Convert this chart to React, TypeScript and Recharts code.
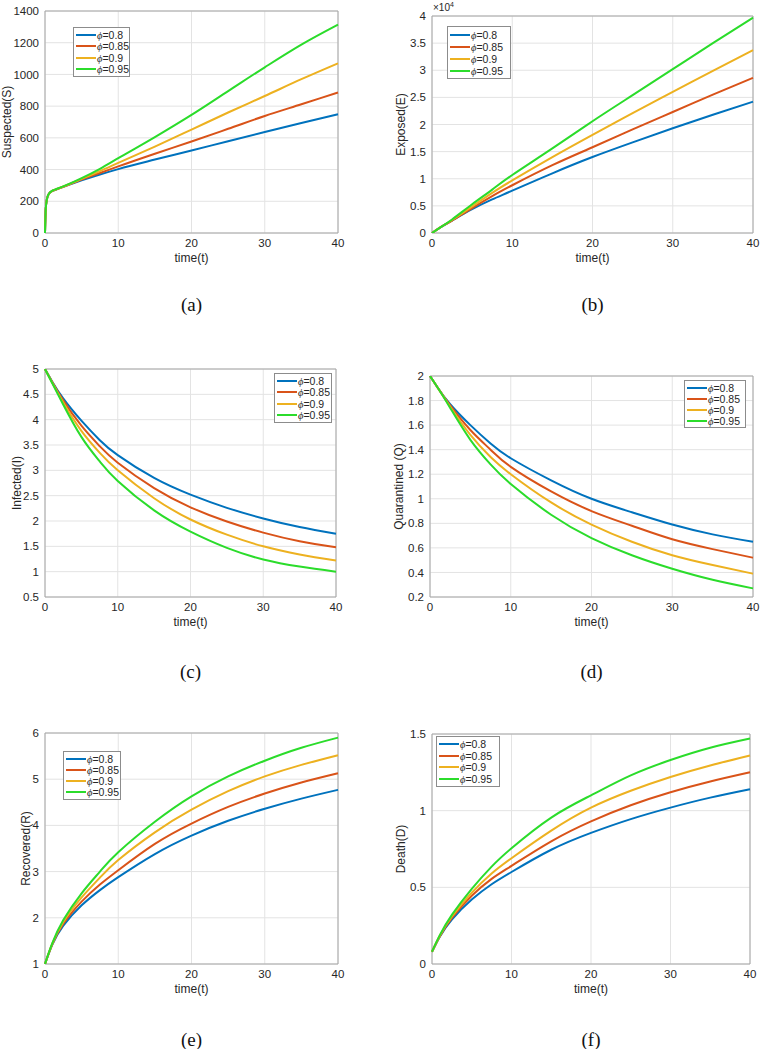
import React from "react";
import {
    LineChart,
    Line,
    XAxis,
    YAxis,
    CartesianGrid,
    ReferenceArea,
    Label,
} from "recharts";

// time points (panel a needs a finer start, the curve shoots up right away)
const timesS = [0, 0.1, 0.25, 0.5, 1, 1.5, 2.5, 5, 7.5, 10, 15, 20, 25, 30, 35, 40];
const times = [0, 1, 2.5, 5, 7.5, 10, 15, 20, 25, 30, 35, 40];

const phiLabels = ["0.8", "0.85", "0.9", "0.95"];
const colors = ["#0072BD", "#D95319", "#EDB120", "#2BDC2B"];

const xTicks = [0, 10, 20, 30, 40];

// (a) Suspected(S)
const S_080 = [0, 150, 210, 245, 265, 274, 291, 332, 369, 403, 463, 520, 579, 637, 694, 749];
const S_085 = [0, 150, 210, 245, 265, 274, 292, 337, 378, 420, 500, 577, 657, 738, 812, 886];
const S_090 = [0, 150, 210, 245, 266, 275, 293, 341, 390, 442, 545, 652, 760, 864, 970, 1070];
const S_095 = [0, 150, 210, 245, 267, 276, 294, 346, 405, 472, 605, 745, 895, 1045, 1188, 1314];
const sTicks = [0, 200, 400, 600, 800, 1000, 1200, 1400];

// (b) Exposed(E), in units of 10^4
const E_080 = [0, 0.1, 0.23, 0.44, 0.62, 0.78, 1.1, 1.4, 1.67, 1.93, 2.18, 2.42];
const E_085 = [0, 0.1, 0.23, 0.46, 0.68, 0.88, 1.25, 1.58, 1.91, 2.23, 2.55, 2.86];
const E_090 = [0, 0.1, 0.24, 0.49, 0.74, 0.97, 1.4, 1.81, 2.21, 2.6, 2.99, 3.37];
const E_095 = [0, 0.1, 0.25, 0.53, 0.8, 1.07, 1.56, 2.06, 2.54, 3.02, 3.5, 3.97];
const eTicks = [0, 0.5, 1, 1.5, 2, 2.5, 3, 3.5, 4];

// (c) Infected(I)
const I_080 = [5, 4.75, 4.42, 3.98, 3.6, 3.3, 2.85, 2.52, 2.26, 2.05, 1.88, 1.75];
const I_085 = [5, 4.74, 4.38, 3.88, 3.48, 3.15, 2.65, 2.27, 1.99, 1.77, 1.6, 1.48];
const I_090 = [5, 4.73, 4.34, 3.78, 3.35, 3.0, 2.45, 2.03, 1.73, 1.5, 1.34, 1.22];
const I_095 = [5, 4.72, 4.3, 3.66, 3.18, 2.79, 2.21, 1.79, 1.47, 1.24, 1.1, 1.0];
const iTicks = [0.5, 1, 1.5, 2, 2.5, 3, 3.5, 4, 4.5, 5];

// (d) Quarantined (Q)
const Q_080 = [2, 1.9, 1.77, 1.6, 1.45, 1.33, 1.15, 1.0, 0.89, 0.79, 0.71, 0.65];
const Q_085 = [2, 1.9, 1.76, 1.56, 1.4, 1.26, 1.06, 0.9, 0.78, 0.67, 0.59, 0.52];
const Q_090 = [2, 1.9, 1.75, 1.52, 1.34, 1.2, 0.97, 0.79, 0.65, 0.54, 0.46, 0.39];
const Q_095 = [2, 1.9, 1.74, 1.48, 1.28, 1.12, 0.87, 0.68, 0.54, 0.43, 0.34, 0.27];
const qTicks = [0.2, 0.4, 0.6, 0.8, 1, 1.2, 1.4, 1.6, 1.8, 2];

// (e) Recovered(R)
const R_080 = [1, 1.42, 1.83, 2.27, 2.6, 2.88, 3.38, 3.78, 4.1, 4.36, 4.58, 4.77];
const R_085 = [1, 1.43, 1.87, 2.35, 2.72, 3.03, 3.6, 4.04, 4.4, 4.69, 4.93, 5.13];
const R_090 = [1, 1.44, 1.91, 2.44, 2.87, 3.25, 3.85, 4.34, 4.74, 5.06, 5.31, 5.52];
const R_095 = [1, 1.45, 1.95, 2.53, 3.0, 3.42, 4.08, 4.63, 5.06, 5.4, 5.68, 5.9];
const rTicks = [1, 2, 3, 4, 5, 6];

// (f) Death(D)
const D_080 = [0.08, 0.18, 0.29, 0.42, 0.52, 0.6, 0.745, 0.855, 0.945, 1.02, 1.085, 1.14];
const D_085 = [0.08, 0.183, 0.3, 0.445, 0.555, 0.64, 0.8, 0.93, 1.035, 1.12, 1.19, 1.25];
const D_090 = [0.08, 0.186, 0.31, 0.465, 0.59, 0.69, 0.87, 1.02, 1.13, 1.22, 1.295, 1.36];
const D_095 = [0.08, 0.19, 0.32, 0.49, 0.635, 0.755, 0.955, 1.1, 1.23, 1.33, 1.41, 1.47];
const dTicks = [0, 0.5, 1, 1.5];

const FONT = "'Liberation Sans', Arial, sans-serif";
const TXT = "#262626";

function rows(t: number[], series: number[][]) {
    return t.map((tt, i) => {
        const r: any = { t: tt };
        series.forEach((s, k) => (r["s" + k] = s[i]));
        return r;
    });
}

const panels = [
    { id: "a", data: rows(timesS, [S_080, S_085, S_090, S_095]), yTicks: sTicks, ylabel: "Suspected(S)", curve: "monotone",
      box: [45, 11, 338, 233], ylx: 11, legend: [73, 27, 57, 50], cap: 305 },
    { id: "b", data: rows(times, [E_080, E_085, E_090, E_095]), yTicks: eTicks, ylabel: "Exposed(E)", curve: "natural",
      box: [432, 16, 753, 233], ylx: 405, legend: [447, 26, 64, 53], cap: 305 },
    { id: "c", data: rows(times, [I_080, I_085, I_090, I_095]), yTicks: iTicks, ylabel: "Infected(I)", curve: "natural",
      box: [45, 369, 336, 597], ylx: 21, legend: [274, 373, 58, 50], cap: 672 },
    { id: "d", data: rows(times, [Q_080, Q_085, Q_090, Q_095]), yTicks: qTicks, ylabel: "Quarantined (Q)", curve: "natural",
      box: [430, 376, 753, 597], ylx: 403, legend: [684, 380, 62, 48], cap: 672 },
    { id: "e", data: rows(times, [R_080, R_085, R_090, R_095]), yTicks: rTicks, ylabel: "Recovered(R)", curve: "natural",
      box: [45, 733, 338, 964], ylx: 30, legend: [63, 751, 58, 49], cap: 1040 },
    { id: "f", data: rows(times, [D_080, D_085, D_090, D_095]), yTicks: dTicks, ylabel: "Death(D)", curve: "natural",
      box: [432, 734, 750, 964], ylx: 405, legend: [436, 736, 64, 51], cap: 1040 },
];

function LegendBox({ x, y, w, h }: { x: number; y: number; w: number; h: number }) {
    return (
        <div style={{
            position: "absolute", left: x, top: y, width: w, height: h, boxSizing: "border-box",
            border: "1px solid #8c8c8c", background: "#fff", fontFamily: FONT, fontSize: 10.5,
            color: TXT, display: "flex", flexDirection: "column", justifyContent: "space-evenly",
            padding: "1px 0",
        }}>
            {phiLabels.map((p, k) => (
                <div key={p} style={{ display: "flex", alignItems: "center", height: 11 }}>
                    <span style={{ display: "inline-block", width: 20, height: 2, background: colors[k], marginLeft: 2, marginRight: 1 }} />
                    <span><i style={{ fontFamily: "'Liberation Serif', serif" }}>ϕ</i>={p}</span>
                </div>
            ))}
        </div>
    );
}

function Panel({ p }: { p: any }) {
    const [x0, y0, x1, y1] = p.box;
    const pw = x1 - x0;
    const ph = y1 - y0;
    const left = x0 - 45;
    const top = y0 - 10;
    const yMin = p.yTicks[0];
    const yMax = p.yTicks[p.yTicks.length - 1];
    const ly = 10 + ph / 2;
    const lx = p.ylx - left;
    return (
        <>
            <div style={{ position: "absolute", left, top }}>
                <LineChart width={pw + 55} height={ph + 50} data={p.data}
                           margin={{ top: 10, right: 10, left: 0, bottom: 0 }}>
                    <CartesianGrid stroke="#e3e3e3" strokeWidth={1} />
                    <XAxis dataKey="t" type="number" domain={[0, 40]} ticks={xTicks} height={40}
                           axisLine={false} tickLine={false} tickSize={4} tickMargin={2}
                           tick={{ fill: TXT, fontSize: 11.5, fontFamily: FONT }} interval={0}>
                        <Label content={() => (
                            <text x={45 + pw / 2} y={10 + ph + 29} textAnchor="middle"
                                  fill={TXT} fontSize={12} fontFamily={FONT}>time(t)</text>
                        )} />
                    </XAxis>
                    <YAxis type="number" domain={[yMin, yMax]} ticks={p.yTicks} width={45}
                           axisLine={false} tickLine={false} tickSize={4} tickMargin={2}
                           tick={{ fill: TXT, fontSize: 11.5, fontFamily: FONT }} interval={0}
                           allowDataOverflow>
                        <Label content={() => (
                            <text x={lx} y={ly} transform={`rotate(-90 ${lx} ${ly})`} textAnchor="middle"
                                  fill={TXT} fontSize={12} fontFamily={FONT}>{p.ylabel}</text>
                        )} />
                    </YAxis>
                    <ReferenceArea x1={0} x2={40} y1={yMin} y2={yMax} fill="none" stroke="#a6a6a6" strokeWidth={1} ifOverflow="visible" />
                    {phiLabels.map((ph2, k) => (
                        <Line key={ph2} type={p.curve} dataKey={"s" + k} stroke={colors[k]} strokeWidth={2}
                              dot={false} isAnimationActive={false} />
                    ))}
                </LineChart>
            </div>
            <LegendBox x={p.legend[0]} y={p.legend[1]} w={p.legend[2]} h={p.legend[3]} />
            <div style={{
                position: "absolute", left: x0 + pw / 2 - 30, width: 60, top: p.cap - 11,
                textAlign: "center", fontFamily: "'Liberation Serif', 'Times New Roman', serif",
                fontSize: 19, color: "#111", lineHeight: "22px",
            }}>({p.id})</div>
        </>
    );
}

export default function App() {
    return (
        <div style={{ position: "absolute", left: 0, top: 0, width: 766, height: 1049, background: "#fff", overflow: "hidden" }}>
            {panels.map((p) => <Panel key={p.id} p={p} />)}
            <div style={{ position: "absolute", left: 433, top: 1, fontFamily: FONT, fontSize: 10, color: TXT }}>
                ×10<sup style={{ fontSize: 7 }}>4</sup>
            </div>
        </div>
    );
}
